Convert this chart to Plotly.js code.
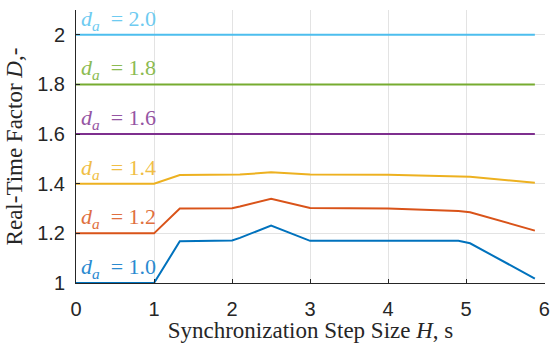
<!DOCTYPE html>
<html>
<head>
<meta charset="utf-8">
<script src="https://cdn.plot.ly/plotly-3.0.1.min.js"></script>
<style>html,body{margin:0;padding:0;background:#fff;}#chart{width:550px;height:343px;}</style>
</head>
<body>
<div id="chart"></div>
<script>
const H = [0, 1, 1.33, 2, 2.1, 2.5, 3, 4, 4.9, 5.05, 5.88];
const d10 = [1.0, 1.0, 1.168, 1.171, 1.182, 1.231, 1.17, 1.17, 1.17, 1.16, 1.018];
const d12 = [1.2, 1.2, 1.30, 1.301, 1.308, 1.339, 1.302, 1.30, 1.29, 1.285, 1.211];
const d14 = [1.4, 1.4, 1.435, 1.435, 1.437, 1.446, 1.437, 1.436, 1.431, 1.428, 1.404];
const Hflat = [0, 5.88];
const d16 = [1.6, 1.6];
const d18 = [1.8, 1.8];
const d20 = [2.0, 2.0];
const labels = ['1.0', '1.2', '1.4', '1.6', '1.8', '2.0'];
const labelY = [1.0, 1.2, 1.4, 1.6, 1.8, 2.0];
const colors = ['#0072BD', '#D95319', '#EDB120', '#7E2F8E', '#77AC30', '#4DBEEE'];
const textColors = ['#2A8AD0', '#E0703F', '#F0BE45', '#9555A3', '#8CBB52', '#6ECBF1'];
const yTicks = [1, 1.2, 1.4, 1.6, 1.8, 2];
const yTickText = ['1', '1.2', '1.4', '1.6', '1.8', '2'];
const xTicks = [0, 1, 2, 3, 4, 5, 6];

const seriesX = [H, H, H, Hflat, Hflat, Hflat];
const seriesY = [d10, d12, d14, d16, d18, d20];
const traces = seriesY.map((y, i) => ({
  x: seriesX[i], y: y, type: 'scatter', mode: 'lines',
  line: {color: colors[i], width: 2}, showlegend: false, hoverinfo: 'skip'
}));

const annotations = labels.map((t, i) => ({
  x: 0.04, y: labelY[i], xref: 'x', yref: 'y', xanchor: 'left', yanchor: 'bottom',
  yshift: -1, showarrow: false,
  text: '<i>d</i><sub><i>a</i></sub>\u2002= ' + t,
  font: {family: 'Liberation Serif, serif', size: 22, color: textColors[i]}
}));

const layout = {
  width: 550, height: 343,
  margin: {l: 76, r: 5, t: 10, b: 60},
  paper_bgcolor: '#fff', plot_bgcolor: '#fff',
  font: {family: 'Liberation Sans, Arial, sans-serif', size: 20, color: '#262626'},
  xaxis: {
    range: [0, 6.01], tickvals: xTicks, ticks: 'inside', ticklen: 4, tickcolor: '#262626',
    showline: true, linecolor: '#262626', linewidth: 1,
    showgrid: true, gridcolor: '#e3e3e3', zeroline: false,
    tickfont: {size: 20, color: '#262626'}, ticklabelstandoff: 8, ticklabeloverflow: 'allow',
    title: {text: 'Synchronization Step Size <i>H</i>, s', standoff: 3,
      font: {family: 'Liberation Serif, serif', size: 23, color: '#262626'}}
  },
  yaxis: {
    range: [1, 2.1], tickvals: yTicks, ticktext: yTickText, ticks: 'inside', ticklen: 4, tickcolor: '#262626',
    showline: true, linecolor: '#262626', linewidth: 1,
    showgrid: true, gridcolor: '#e3e3e3', zeroline: false,
    tickfont: {size: 20, color: '#262626'}, ticklabelstandoff: 6,
    title: {text: 'Real-Time Factor <i>D</i>,-', standoff: 8,
      font: {family: 'Liberation Serif, serif', size: 23, color: '#262626'}}
  },
  annotations: annotations
};

Plotly.newPlot('chart', traces, layout, {displayModeBar: false, staticPlot: true});
</script>
</body>
</html>
